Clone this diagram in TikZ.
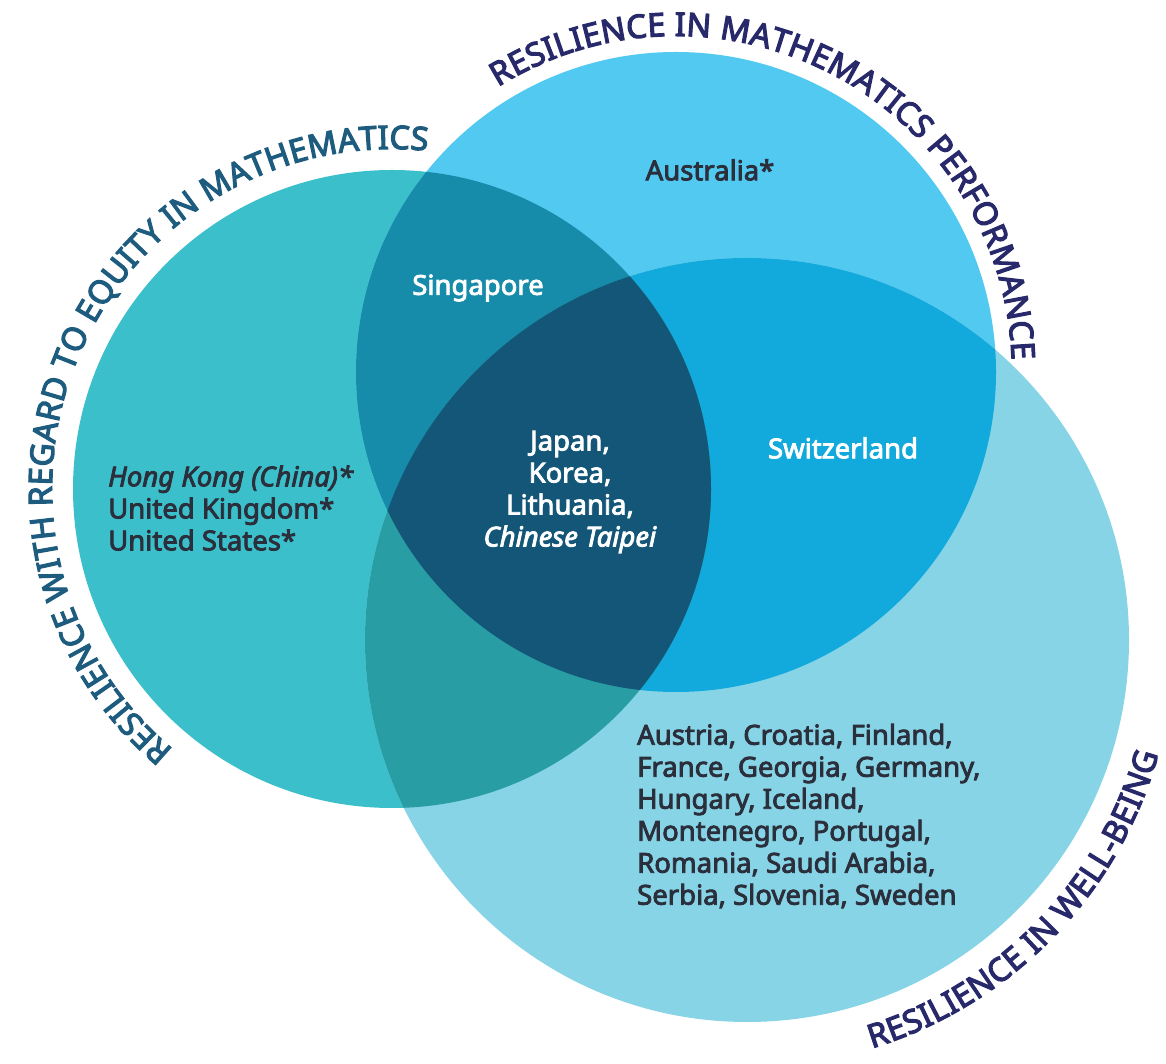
\documentclass[tikz,border=0pt]{standalone}
\usepackage{fontspec}
\setmainfont{Noto Sans}[BoldFont={Noto Sans}, BoldFeatures={FakeBold=3},
  BoldItalicFont={Noto Sans Italic}, BoldItalicFeatures={FakeBold=3}]
\newfontfamily\lblfont{Noto Sans}[FakeBold=3.5]
\usetikzlibrary{decorations.text}
\definecolor{cL}{HTML}{3BC0CB}
\definecolor{cT}{HTML}{52C9F0}
\definecolor{cB}{HTML}{87D4E6}
\definecolor{cLT}{HTML}{168BAA}
\definecolor{cTB}{HTML}{12A9DC}
\definecolor{cLB}{HTML}{289DA4}
\definecolor{cLTB}{HTML}{135677}
\definecolor{darktext}{HTML}{2B2E3B}
\definecolor{lblA}{HTML}{1D5C7E}
\definecolor{lblB}{HTML}{28296B}
\begin{document}
\begin{tikzpicture}[x=1pt,y=1pt,
  ctext/.style={font=\bfseries\fontsize{27.5}{32}\selectfont, text=darktext, inner sep=0pt},
  wtext/.style={ctext, text=white},
  arclabel/.style={decorate, decoration={text along path, text align={fit to path}, text color=#1}}
]
\useasboundingbox (0,0) rectangle (1166,1063);
\coordinate (L) at (392,574);
\coordinate (T) at (676,691);
\coordinate (B) at (747,423);
% circles
\fill[cL] (L) circle[radius=319];
\fill[cT] (T) circle[radius=320];
\fill[cB] (B) circle[radius=382];
\begin{scope}
  \clip (T) circle[radius=320];
  \fill[cTB] (B) circle[radius=382];
\end{scope}
\begin{scope}
  \clip (L) circle[radius=319];
  \fill[cLT] (T) circle[radius=320];
  \fill[cLB] (B) circle[radius=382];
  \clip (T) circle[radius=320];
  \fill[cLTB] (B) circle[radius=382];
\end{scope}
% curved labels
\path[arclabel=lblA, decoration={text={|\lblfont\fontsize{32.5}{32}\selectfont|RESILIENCE WITH REGARD TO EQUITY IN MATHEMATICS}}]
  (L) ++(230:340) arc[start angle=230, end angle=84, radius=340];
\path[arclabel=lblB, decoration={text={|\lblfont\fontsize{32.5}{32}\selectfont|RESILIENCE IN MATHEMATICS PERFORMANCE}}]
  (T) ++(122:336) arc[start angle=122, end angle=2, radius=336];
\path[arclabel=lblB, decoration={text={|\lblfont\fontsize{32.5}{32}\selectfont|RESILIENCE IN WELL-BEING}}]
  (B) ++(-73:427) arc[start angle=-73, end angle=-15.5, radius=427];
% region texts
\node[ctext] (aus) at (710,893) {Australia*};
\node[wtext] (sgp) at (478,775) {Singapore};
\node[wtext] (che) at (843,615) {Switzerland};
\node[wtext, align=center] (core) at (570,571) {Japan,\\Korea,\\Lithuania,\\\textit{Chinese Taipei}};
\node[ctext, align=left, anchor=west] (equity) at (108,555) {\textit{Hong Kong (China)*}\\United Kingdom*\\United States*};
\node[ctext, align=left, anchor=west] (well) at (637,247) {Austria, Croatia, Finland,\\France, Georgia, Germany,\\Hungary, Iceland,\\Montenegro, Portugal,\\Romania, Saudi Arabia,\\Serbia, Slovenia, Sweden};
\end{tikzpicture}
\end{document}
